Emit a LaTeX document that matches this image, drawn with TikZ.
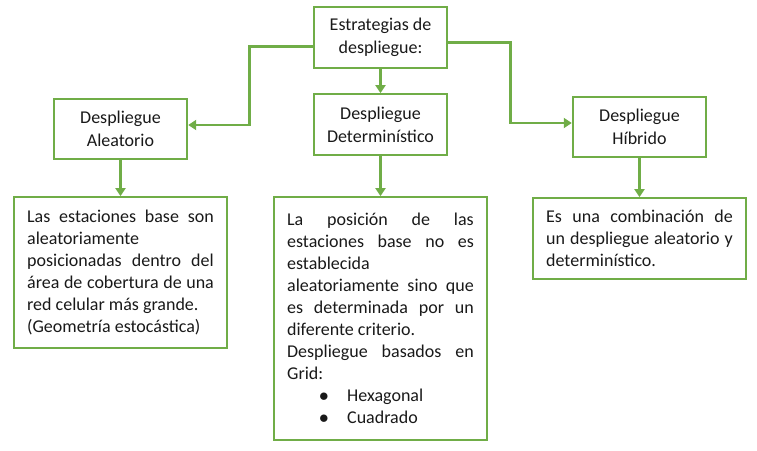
\documentclass[tikz,border=0pt]{standalone}
\usepackage{fontspec}
\setmainfont{Carlito}
\usetikzlibrary{arrows.meta}
\definecolor{verde}{HTML}{70AD47}
\tolerance=10000
\hbadness=10000

\begin{document}
\begin{tikzpicture}[x=0.75pt,y=-0.75pt,
        caja/.style={draw=verde, line width=1.6pt, text=black!90, align=center,
            font=\fontsize{13.5}{17.5}\selectfont},
        titulo/.style={caja, minimum width=100pt, minimum height=45.5pt},
        texto/.style={caja, align=justify, text width=140pt, inner xsep=10pt,
            font=\fontsize{13.5}{16.5}\selectfont},
        flecha/.style={draw=verde, line width=2.2pt, -{Triangle[length=6pt,width=7.5pt]}}]
        \useasboundingbox (0,0) rectangle (757,450);
        \def\vin{\makebox[45pt][l]{\hspace*{24pt}$\bullet$}}   % viñeta

        % Caja superior
        \node[titulo] (estr) at (380.5,37.5) {Estrategias de\\despliegue:};

        % Tipos de despliegue
        \node[titulo] (ale) at (120.5,129) {Despliegue\\Aleatorio};
        \node[titulo] (det) at (380.5,124.5) {Despliegue\\Determinístico};
        \node[titulo] (hib) at (639.5,127) {Despliegue\\Híbrido};

        % Descripciones
        \node[texto, minimum height=113pt] (txtA) at (120.5,272.5) {Las estaciones base son\linebreak
            aleatoriamente\newline
            posicionadas dentro del\linebreak
            área de cobertura de una\linebreak
            red celular más grande.\newline
            (Geometría estocástica)};
        \node[texto, minimum height=182pt] (txtD) at (380.5,318.5) {La posición de las\linebreak
            estaciones base no es\linebreak
            establecida\newline
            aleatoriamente sino que\linebreak
            es determinada por un\linebreak
            diferente criterio.\newline
            Despliegue basados en\linebreak
            Grid:\newline
            \vin Hexagonal\newline
            \vin Cuadrado};
        \node[texto, minimum height=60.5pt] (txtH) at (639.5,238.5) {Es una combinación de\linebreak
            un despliegue aleatorio y\linebreak
            determinístico.};

        % Conectores
        \draw[flecha] ([yshift=-7pt]estr.west) -- ++(-63,0) |- ([yshift=3pt]ale.east);
        \draw[flecha] ([yshift=-4pt]estr.east) -- ++(62,0) |- ([yshift=3pt]hib.west);
        \draw[flecha] (estr) -- (det);
        \draw[flecha] (ale) -- (txtA);
        \draw[flecha] (det) -- (txtD);
        \draw[flecha] (hib) -- (txtH);
\end{tikzpicture}
\end{document}
